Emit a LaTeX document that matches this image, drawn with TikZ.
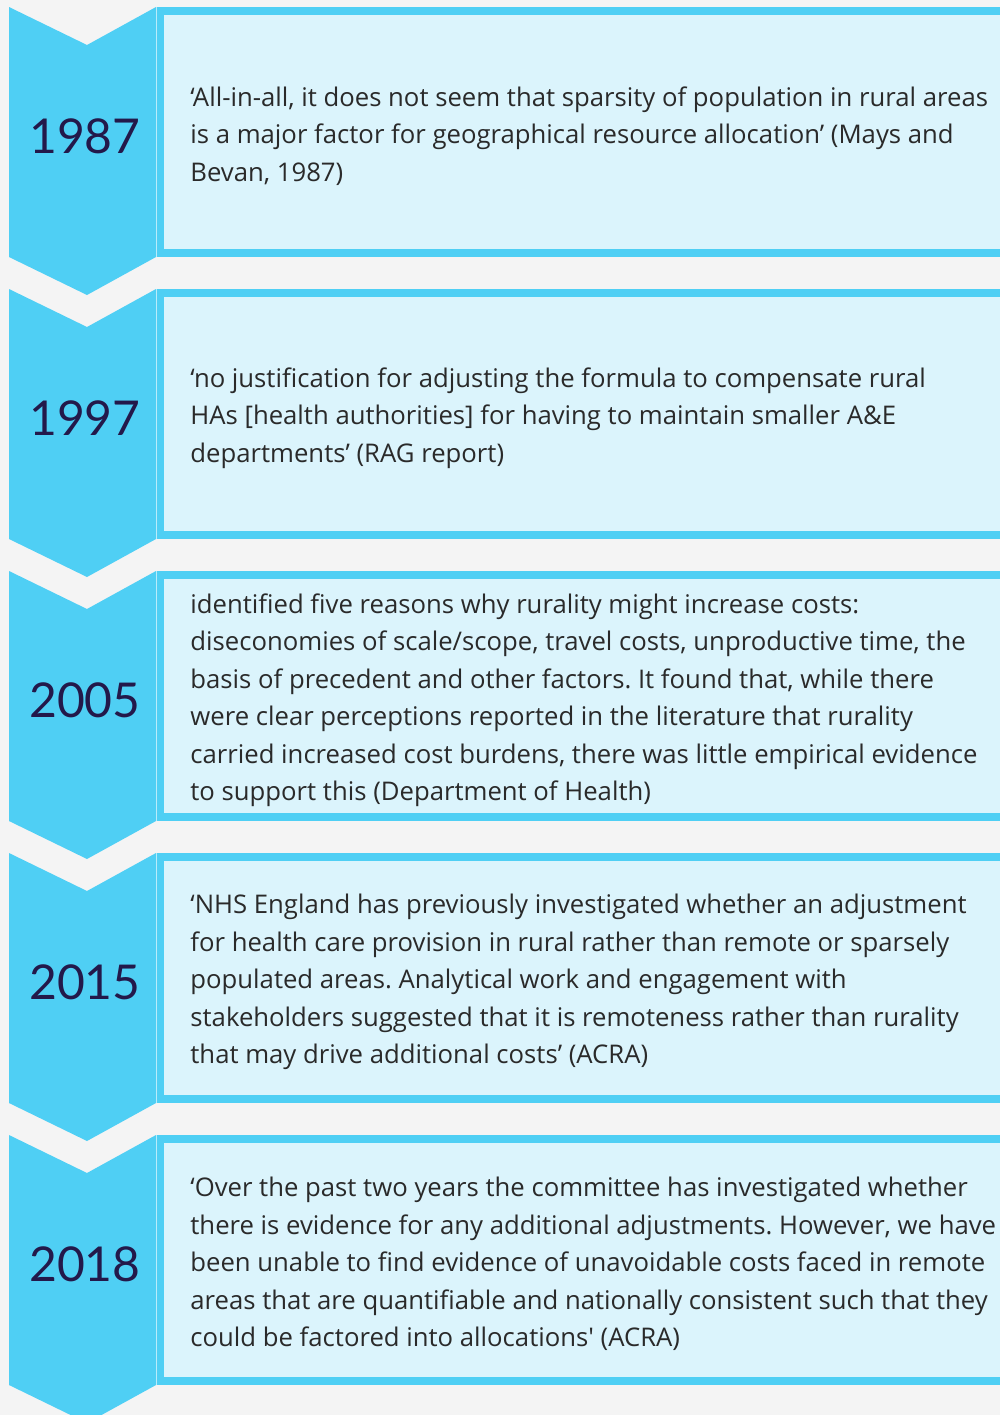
\documentclass[tikz,border=0pt]{standalone}
\usepackage{fontspec}
\setmainfont{Open Sans}
\newfontfamily\yearfont{Lato}
\definecolor{chev}{HTML}{4FCFF4}
\definecolor{boxfill}{HTML}{DBF4FC}
\definecolor{bg}{HTML}{F4F4F4}
\definecolor{yearcol}{HTML}{23194A}
\definecolor{quotecol}{HTML}{2A2A2A}
\frenchspacing
\tikzset{
  chevron/.style={fill=chev},
  panel/.style={fill=boxfill, draw=chev, line width=4pt},
  seam/.style={draw=chev!40!white, line width=0.4pt},
  year/.style={text=yearcol, font=\yearfont\fontsize{24}{30}\selectfont},
  quote/.style={text=quotecol, anchor=west, align=left, inner sep=0pt,
    font=\fontsize{12.85}{18.75}\selectfont},
}
\begin{document}
\begin{tikzpicture}[x=0.5pt,y=-0.5pt]
% background
\fill[bg] (0,0) rectangle (1000,1415);
\useasboundingbox (0,0) rectangle (1000,1415);

% 1987
\fill[chevron] (9,7) -- (87,45) -- (156,7) -- (156,257) -- (87,295) -- (9,257) -- cycle;
\draw[panel] (160,11) rectangle (1010,253);
\draw[seam] (156,7) -- (156,257);
\node[year] (y1987) at (85,136) {1987};
\node[quote] (q1987) at (190,136) {‘All-in-all, it does not seem that sparsity of population in rural areas\\
  is a major factor for geographical resource allocation’ (Mays and\\
  Bevan, 1987)};

% 1997
\fill[chevron] (9,289) -- (87,327) -- (156,289) -- (156,539) -- (87,577) -- (9,539) -- cycle;
\draw[panel] (160,293) rectangle (1010,535);
\draw[seam] (156,289) -- (156,539);
\node[year] (y1997) at (85,418) {1997};
\node[quote] (q1997) at (190,418) {‘no justification for adjusting the formula to compensate rural\\
  HAs [health authorities] for having to maintain smaller A\&E\\
  departments’ (RAG report)};

% 2005
\fill[chevron] (9,571) -- (87,609) -- (156,571) -- (156,821) -- (87,859) -- (9,821) -- cycle;
\draw[panel] (160,575) rectangle (1010,817);
\draw[seam] (156,571) -- (156,821);
\node[year] (y2005) at (85,700) {2005};
\node[quote] (q2005) at (190,700) {identified five reasons why rurality might increase costs:\\
  diseconomies of scale/scope, travel costs, unproductive time, the\\
  basis of precedent and other factors. It found that, while there\\
  were clear perceptions reported in the literature that rurality\\
  carried increased cost burdens, there was little empirical evidence\\
  to support this (Department of Health)};

% 2015
\fill[chevron] (9,853) -- (87,891) -- (156,853) -- (156,1103) -- (87,1141) -- (9,1103) -- cycle;
\draw[panel] (160,857) rectangle (1010,1099);
\draw[seam] (156,853) -- (156,1103);
\node[year] (y2015) at (85,982) {2015};
\node[quote] (q2015) at (190,982) {‘NHS England has previously investigated whether an adjustment\\
  for health care provision in rural rather than remote or sparsely\\
  populated areas. Analytical work and engagement with\\
  stakeholders suggested that it is remoteness rather than rurality\\
  that may drive additional costs’ (ACRA)};

% 2018
\fill[chevron] (9,1135) -- (87,1173) -- (156,1135) -- (156,1385) -- (87,1423) -- (9,1385) -- cycle;
\draw[panel] (160,1139) rectangle (1010,1381);
\draw[seam] (156,1135) -- (156,1385);
\node[year] (y2018) at (85,1264) {2018};
\node[quote] (q2018) at (190,1264) {‘Over the past two years the committee has investigated whether\\
  there is evidence for any additional adjustments. However, we have\\
  been unable to find evidence of unavoidable costs faced in remote\\
  areas that are quantifiable and nationally consistent such that they\\
  could be factored into allocations\textquotesingle\ (ACRA)};
\end{tikzpicture}
\end{document}
